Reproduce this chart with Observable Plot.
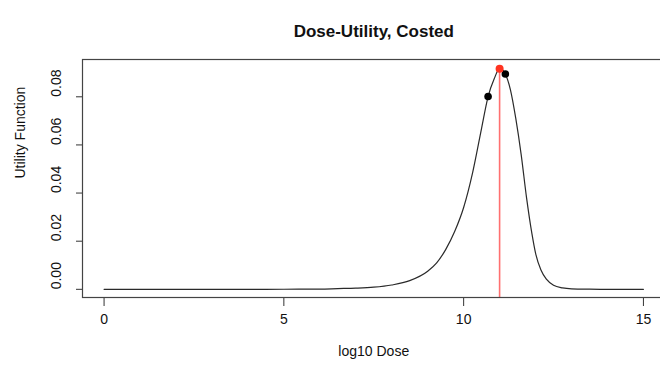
<!DOCTYPE html>
<html>
<head>
<meta charset="utf-8">
<script src="https://cdn.jsdelivr.net/npm/d3@7"></script>
<script src="https://cdn.jsdelivr.net/npm/@observablehq/plot@0.6"></script>
<style>
  html, body { margin: 0; padding: 0; background: #fff; overflow: hidden; }
  #wrap { width: 660px; height: 372px; overflow: hidden; position: relative; }
  #wrap svg { max-width: none !important; width: 680px !important; height: 372px !important; display: block; }
</style>
</head>
<body>
<div id="wrap"></div>
<script>
const title = "Dose-Utility, Costed";
const xLabel = "log10 Dose";
const yLabel = "Utility Function";

// curve
const doseLog = [0, 1, 2, 3, 4, 5, 6, 6.5, 7, 7.5, 8, 8.5, 9, 9.25, 9.5, 9.75, 10, 10.25, 10.5, 10.68, 10.85, 11.0, 11.1, 11.16, 11.3, 11.45, 11.6, 11.75, 11.9, 12.0, 12.15, 12.3, 12.5, 12.75, 13, 13.5, 14, 15];
const utility = [0, 0, 0, 0, 0, 0.00002, 0.0001, 0.0003, 0.0005, 0.0009, 0.0018, 0.0036, 0.0075, 0.011, 0.0165, 0.024, 0.034, 0.0485, 0.067, 0.0801, 0.0875, 0.0917, 0.0910, 0.0895, 0.0830, 0.071, 0.056, 0.038, 0.023, 0.015, 0.008, 0.0042, 0.0017, 0.0006, 0.0002, 0.00005, 0, 0];

// highlighted points
const blackX = [10.68, 11.16];
const blackY = [0.0801, 0.0895];
const bestX = [11.0];
const bestY = [0.0917];

const xTicks = [0, 5, 10, 15];
const yTicks = [0, 0.02, 0.04, 0.06, 0.08];

const curve = doseLog.map((x, i) => ({x, y: utility[i]}));
const blackPts = blackX.map((x, i) => ({x, y: blackY[i]}));
const bestPts = bestX.map((x, i) => ({x, y: bestY[i]}));

const yMin = -0.0034, yMax = 0.0955;
const font = "'Liberation Sans', Arial, Helvetica, sans-serif";

const chart = Plot.plot({
  width: 680,
  height: 372,
  marginLeft: 82,
  marginRight: 15.5,
  marginTop: 59,
  marginBottom: 75,
  style: {fontFamily: font, fontSize: "13px", color: "#111", background: "#fff"},
  x: {domain: [-0.6, 15.6], label: null},
  y: {domain: [yMin, yMax], label: null},
  marks: [
    Plot.axisX({ticks: xTicks, tickSize: 9, tickPadding: 8, tickFormat: d => String(d), fontSize: 14, stroke: "#333", label: null}),
    Plot.axisY({ticks: yTicks, tickSize: 6, tickFormat: () => "", stroke: "#333", label: null}),
    Plot.text(yTicks, {y: d => d, frameAnchor: "left", dx: -26, rotate: -90, text: d => d3.format(".2f")(d), fontSize: 14, fill: "#111"}),
    Plot.ruleX(bestPts, {x: "x", y1: yMin, y2: "y", stroke: "#ff7070", strokeWidth: 1.6}),
    Plot.line(curve, {x: "x", y: "y", curve: "monotone-x", stroke: "#2a2a2a", strokeWidth: 1.2}),
    Plot.dot(blackPts, {x: "x", y: "y", r: 3.8, fill: "#000", stroke: "none"}),
    Plot.dot(bestPts, {x: "x", y: "y", r: 4, fill: "#ff3320", stroke: "none"}),
    Plot.frame({stroke: "#444", strokeWidth: 1.2}),
    Plot.text([title], {frameAnchor: "top", dy: -35, fontWeight: "bold", fontSize: 17, fill: "#111"}),
    Plot.text([xLabel], {frameAnchor: "bottom", dy: 58, fontSize: 14, fill: "#111"}),
    Plot.text([yLabel], {frameAnchor: "left", dx: -62, rotate: -90, fontSize: 14, fill: "#111"})
  ]
});
document.getElementById("wrap").appendChild(chart);
</script>
</body>
</html>
